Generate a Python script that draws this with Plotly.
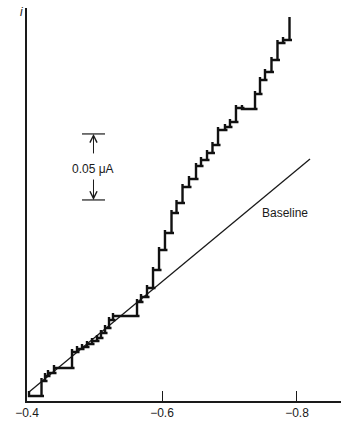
import plotly.graph_objects as go

# Sampled-current polarogram: potential (V) of each step riser and the current (uA) after it
start_potential = -0.4030
start_current = 0.0076
initial_current = 0.0038

step_potential = [
    -0.4215, -0.4267, -0.4311, -0.4400, -0.4667, -0.4741, -0.4815, -0.4889,
    -0.4963, -0.5037, -0.5096, -0.5156, -0.5215, -0.5274, -0.5630, -0.5689,
    -0.5778, -0.5867, -0.5956, -0.6044, -0.6141, -0.6215, -0.6304, -0.6400,
    -0.6504, -0.6578, -0.6667, -0.6748, -0.6830, -0.6933, -0.7007, -0.7096,
    -0.7185, -0.7378, -0.7452, -0.7526, -0.7622, -0.7711, -0.7793, -0.7889,
]
step_current = [
    0.0152, 0.0189, 0.0212, 0.0250, 0.0371, 0.0394, 0.0409, 0.0432,
    0.0455, 0.0477, 0.0515, 0.0553, 0.0614, 0.0644, 0.0750, 0.0788,
    0.0856, 0.0992, 0.1144, 0.1273, 0.1424, 0.1500, 0.1621, 0.1682,
    0.1780, 0.1826, 0.1879, 0.1939, 0.2053, 0.2076, 0.2114, 0.2220,
    0.2212, 0.2326, 0.2432, 0.2492, 0.2583, 0.2712, 0.2735, 0.2909,
]

# Residual-current baseline
baseline_potential = [-0.4030, -0.8193]
baseline_current = [0.0068, 0.1833]

# Axis ticks
tick_values = [-0.4, -0.6, -0.8]
tick_labels = ["\u22120.4", "\u22120.6", "\u22120.8"]

# Current scale bar
scale_current = 0.05
scale_label = "0.05 \u03bcA"

# Pen behaviour of the recorder: overshoot at each riser, short run past the next riser
pen_overshoot = 0.0023
pen_tail = 0.0037

x_range = [-0.4, -0.8652]
y_range = [0.0, 0.2977]

px, py = [start_potential, start_potential], [start_current, initial_current]
level = initial_current
last = len(step_potential) - 1
for k, (e, c) in enumerate(zip(step_potential, step_current)):
    px += [e - pen_tail, e]
    py += [level, level]
    if k < last:
        px += [e, e]
        py += [max(c, level) + pen_overshoot, c]
    else:
        px.append(e)
        py.append(c)
    level = c

font = dict(family="Liberation Sans, Arial, sans-serif", color="#1a1a1a")

fig = go.Figure()
fig.add_trace(go.Scatter(
    x=baseline_potential, y=baseline_current, mode="lines",
    line=dict(color="#1a1a1a", width=1.3), hoverinfo="skip",
))
fig.add_trace(go.Scatter(
    x=px, y=py, mode="lines",
    line=dict(color="#111111", width=2.4), hoverinfo="skip",
))

# Scale bar for the current axis
bar_left, bar_right = -0.4815, -0.5156
bar_x = -0.4985
bar_bottom = 0.1523
bar_top = bar_bottom + scale_current
for yv in (bar_bottom, bar_top):
    fig.add_shape(type="line", xref="x", yref="y", x0=bar_left, x1=bar_right,
                  y0=yv, y1=yv, line=dict(color="#1a1a1a", width=1.2))
arrow_common = dict(xref="x", yref="y", axref="x", ayref="y", text="",
                    showarrow=True, arrowhead=5, arrowsize=1.4, arrowwidth=1,
                    arrowcolor="#1a1a1a")
fig.add_annotation(x=bar_x, y=bar_top, ax=bar_x, ay=bar_top - 0.0159, **arrow_common)
fig.add_annotation(x=bar_x, y=bar_bottom, ax=bar_x, ay=bar_bottom + 0.0166, **arrow_common)
fig.add_annotation(x=bar_x, y=bar_bottom + 0.0235, text=scale_label, showarrow=False,
                   font=dict(size=12, **font))

fig.add_annotation(x=-0.7822, y=0.1424, text="Baseline", showarrow=False,
                   font=dict(size=12, **font))
fig.add_annotation(xref="paper", yref="paper", x=-0.005, y=0.99,
                   xanchor="right", yanchor="middle", text="<i>i</i>",
                   showarrow=False, font=dict(size=12, **font))

fig.update_layout(
    width=341, height=423,
    margin=dict(l=27, r=0, t=8, b=22),
    paper_bgcolor="white", plot_bgcolor="white",
    showlegend=False,
    xaxis=dict(range=x_range, showgrid=False, zeroline=False,
               showline=True, linecolor="#1a1a1a", linewidth=1.5,
               ticks="inside", ticklen=10, tickwidth=1.2, tickcolor="#1a1a1a",
               tickvals=tick_values, ticktext=tick_labels,
               tickfont=dict(size=12, **font)),
    yaxis=dict(range=y_range, showgrid=False, zeroline=False,
               showline=True, linecolor="#1a1a1a", linewidth=1.5,
               showticklabels=False, ticks=""),
)

fig.write_html("out.html")
